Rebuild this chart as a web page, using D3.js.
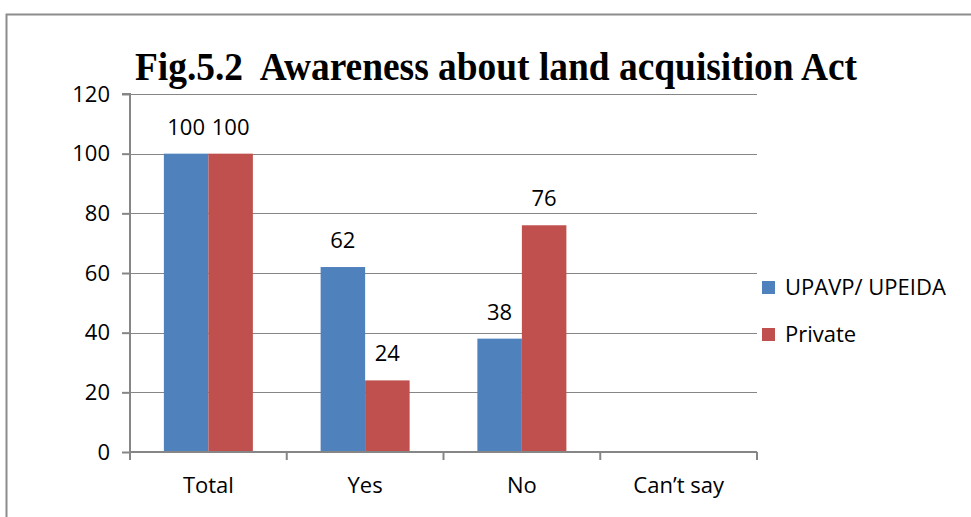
<!DOCTYPE html>
<html><head><meta charset="utf-8">
<script src="https://cdn.jsdelivr.net/npm/d3@7"></script>
<style>body{margin:0;background:#fff}</style>
</head><body>
<script>
const categories = ["Total", "Yes", "No", "Can\u2019t say"];
const seriesNames = ["UPAVP/ UPEIDA", "Private"];
const upavp = [100, 62, 38, null];
const privateVals = [100, 24, 76, null];
const yTicks = [0, 20, 40, 60, 80, 100, 120];
const colors = ["#4F81BD", "#C0504D"];
const titleText = "Fig.5.2  Awareness about land acquisition Act";

(function () {
const W = 971, H = 517;
const svg = d3.select("body").append("svg").attr("width", W).attr("height", H);
const font = "'Open Sans', 'Noto Sans', sans-serif";
const fs = 22;

// outer border
svg.append("path").attr("d", `M6.5,${H} V14.5 H${W}`).attr("fill", "none").attr("stroke", "#8c8c8c").attr("stroke-width", 2);

const pLeft = 130, pRight = 757, pTop = 94, pBottom = 452;
const x = d3.scaleBand().domain(categories).range([pLeft, pRight]).padding(0);
const y = d3.scaleLinear().domain([0, 120]).range([pBottom, pTop]);

// gridlines
svg.append("g").selectAll("line").data(yTicks.filter(d => d > 0)).join("line")
  .attr("x1", pLeft).attr("x2", pRight)
  .attr("y1", d => Math.round(y(d)) + 0.5).attr("y2", d => Math.round(y(d)) + 0.5)
  .attr("stroke", "#868686").attr("stroke-width", 1.2);

// bars
const data = categories.map((c, i) => ({c, vals: [upavp[i], privateVals[i]]}));
const barW = 44.5;
const inner = d3.scaleBand().domain([0, 1]).range([0, barW * 2]);
const gBars = svg.append("g");
data.forEach(d => {
  const x0 = x(d.c) + (x.bandwidth() - barW * 2) / 2;
  d.vals.forEach((v, j) => {
    if (v == null) return;
    gBars.append("rect").attr("x", x0 + inner(j)).attr("width", barW)
      .attr("y", y(v)).attr("height", y(0) - y(v)).attr("fill", colors[j]);
    gBars.append("text").attr("x", x0 + inner(j) + barW / 2).attr("y", y(v) - 19)
      .attr("text-anchor", "middle").attr("font-family", font).attr("font-size", fs)
      .attr("fill", "#000").text(v);
  });
});

// y axis
const yAxis = d3.axisLeft(y).tickValues(yTicks).tickSize(8).tickPadding(12);
const gy = svg.append("g").attr("transform", `translate(${pLeft},0)`).call(yAxis);
gy.select(".domain").attr("stroke", "#868686").attr("stroke-width", 2).attr("d", `M-8,${pTop}H0V${pBottom+7}`);
gy.selectAll(".tick line").attr("stroke", "#868686").attr("stroke-width", 2);
gy.selectAll(".tick text").attr("font-family", font).attr("font-size", fs).attr("fill", "#000");

// x axis
const xAxis = d3.axisBottom(x).tickSize(0).tickPadding(25);
const gx = svg.append("g").attr("transform", `translate(0,${pBottom})`).call(xAxis);
gx.select(".domain").attr("stroke", "#868686").attr("stroke-width", 2).attr("d", `M${pLeft},0H${pRight}`);
gx.selectAll(".tick text").attr("font-family", font).attr("font-size", fs).attr("fill", "#000");
gx.append("g").selectAll("line").data(d3.range(categories.length + 1)).join("line")
  .attr("x1", i => pLeft + i * x.bandwidth()).attr("x2", i => pLeft + i * x.bandwidth())
  .attr("y1", 0).attr("y2", 8).attr("stroke", "#868686").attr("stroke-width", 2);

// title
svg.append("text").attr("x", 135).attr("y", 80)
  .style("white-space", "pre")
  .attr("font-family", "'Liberation Serif', 'Times New Roman', serif")
  .attr("font-weight", "bold").attr("font-size", 40)
  .attr("textLength", 722).attr("lengthAdjust", "spacingAndGlyphs")
  .text(titleText);

// legend
const lg = svg.append("g");
seriesNames.forEach((n, i) => {
  const yy = 281 + i * 47;
  lg.append("rect").attr("x", 762).attr("y", yy).attr("width", 13).attr("height", 13).attr("fill", colors[i]);
  lg.append("text").attr("x", 785).attr("y", yy + 14).attr("font-family", font).attr("font-size", fs).text(n);
});
})();
</script>
</body></html>
